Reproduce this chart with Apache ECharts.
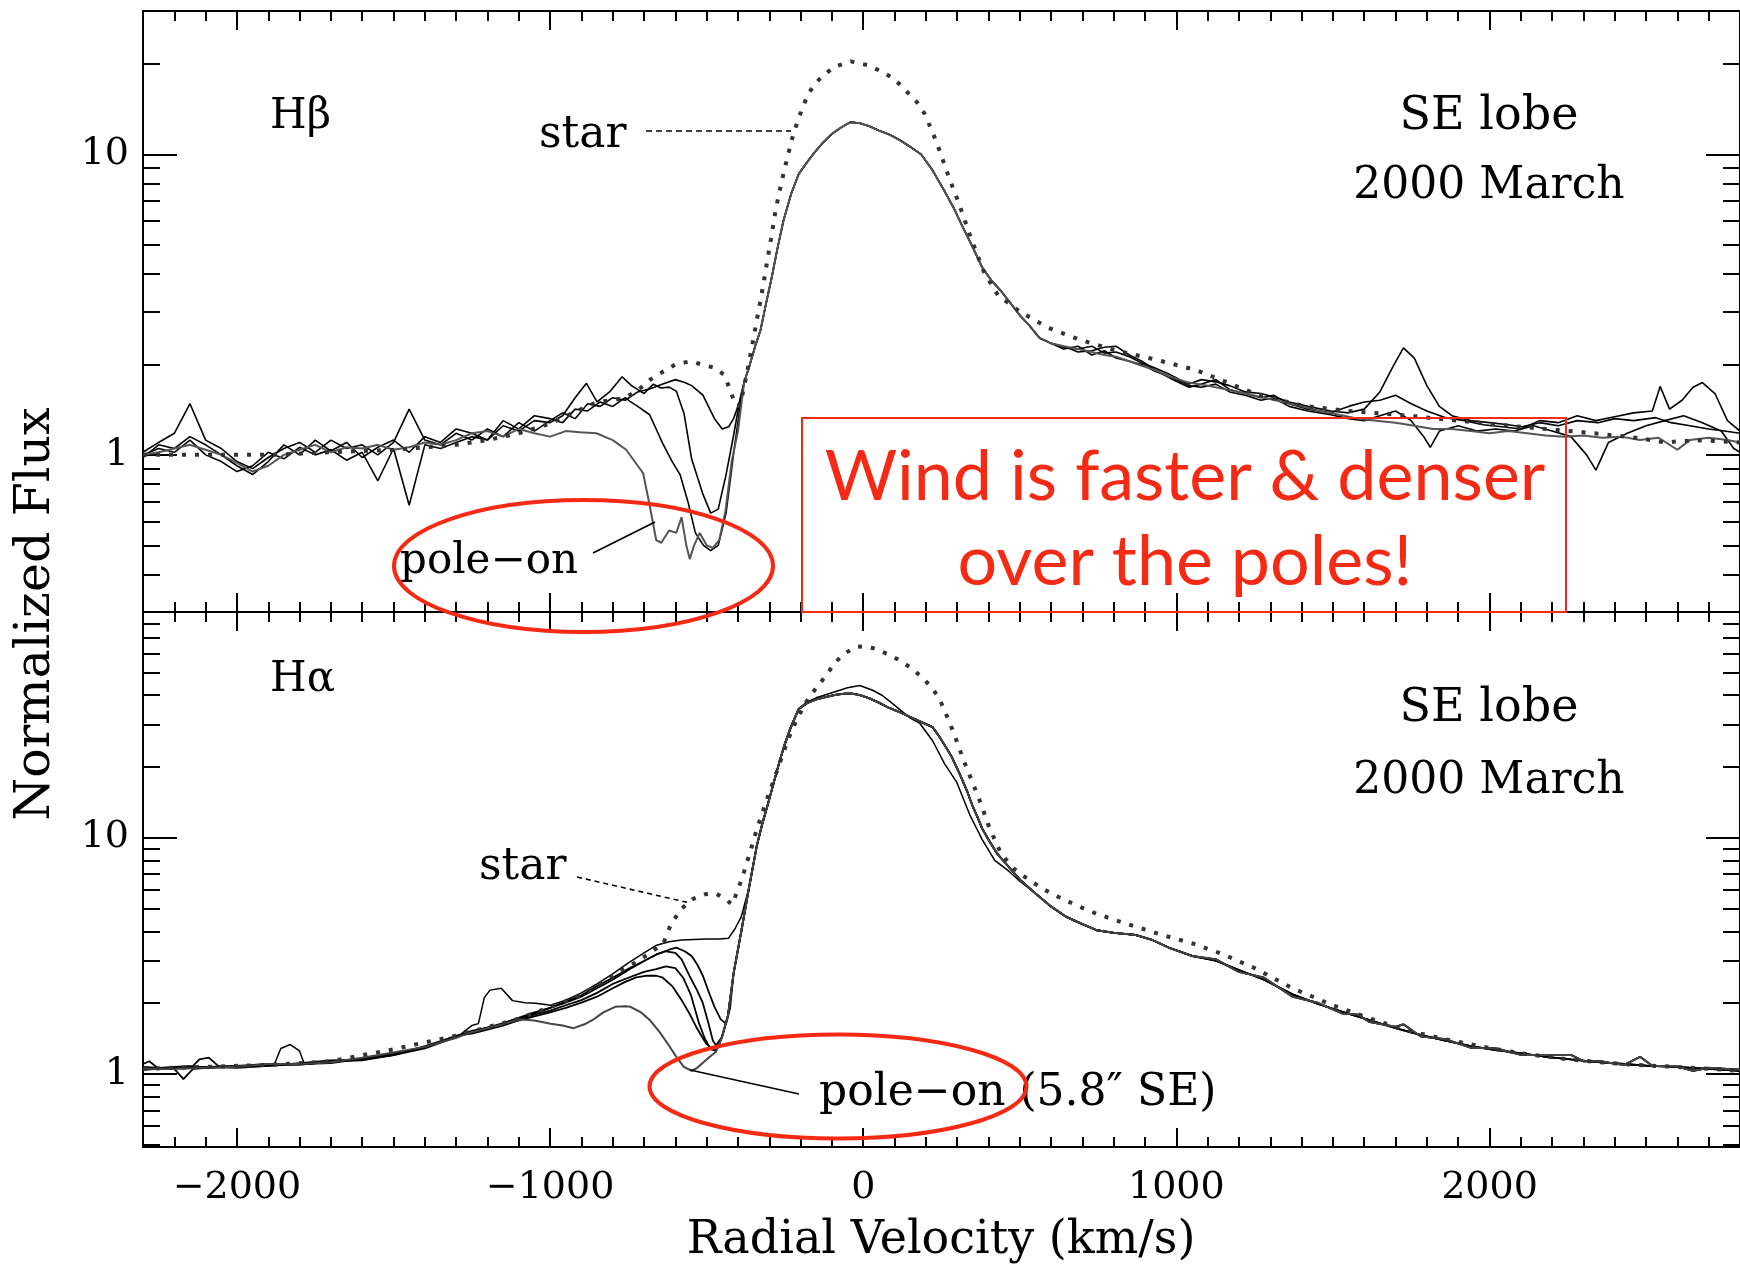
<!DOCTYPE html>
<html><head><meta charset="utf-8">
<script src="https://cdn.jsdelivr.net/npm/echarts@6/dist/echarts.min.js"></script>
<style>html,body{margin:0;padding:0;background:#fff}#c{width:1740px;height:1265px}</style>
</head><body><div id="c"></div>
<script>
// ---------------- H-beta (top panel) ----------------
const hbContV = [-2300,-2250,-2200,-2150,-2100,-2050,-2000,-1950,-1900,-1850,-1800,-1750,-1700,-1650,-1600,-1550,-1500,-1450,-1400,-1350,-1300,-1250,-1200,-1150,-1100,-1050];
const hbContA = [1.02,1.1,1.18,1.48,1.12,1.05,0.95,0.9,0.98,1.05,1.1,1.02,1.12,1.05,1.08,1.0,1.1,1.42,1.12,1.08,1.18,1.12,1.22,1.15,1.28,1.2];
const hbContB = [1.0,1.05,1.02,1.12,1.0,0.95,0.88,0.92,1.02,0.97,1.06,1.0,1.04,0.96,1.02,0.82,1.05,0.68,1.08,1.05,1.1,1.15,1.12,1.25,1.2,1.3];
const hbContC = [0.98,1.08,1.05,1.15,1.08,1.0,0.92,0.86,0.95,1.08,1.0,1.12,1.03,1.1,0.98,1.06,1.12,1.02,1.15,1.1,1.22,1.18,1.12,1.3,1.22,1.35];
const hbContP = [1.0,1.02,1.05,1.08,1.04,1.0,0.94,0.88,0.92,1.0,1.04,1.08,1.02,1.06,1.05,1.08,1.04,1.06,1.1,1.08,1.12,1.18,1.2,1.15,1.22,1.18];

const hbAbsA = [[-1000,1.3],[-960,1.38],[-920,1.32],[-880,1.48],[-840,1.45],[-800,1.55],[-760,1.52],[-720,1.62],[-680,1.66],[-640,1.72],[-600,1.78],[-570,1.74],[-548,1.7],[-512,1.58],[-475,1.32],[-450,1.22],[-430,1.24],[-414,1.32],[-395,1.5]];
const hbAbsB = [[-1000,1.28],[-960,1.35],[-920,1.55],[-884,1.73],[-850,1.5],[-810,1.62],[-770,1.82],[-740,1.7],[-700,1.6],[-670,1.72],[-646,1.67],[-620,1.68],[-597,1.63],[-572,1.37],[-548,0.97],[-512,0.74],[-487,0.64],[-463,0.66],[-438,0.86],[-414,1.16],[-395,1.5]];
const hbAbsC = [[-1000,1.32],[-960,1.28],[-920,1.42],[-880,1.4],[-840,1.5],[-800,1.45],[-760,1.55],[-746,1.51],[-720,1.45],[-682,1.36],[-640,1.09],[-610,0.95],[-585,0.86],[-560,0.7],[-536,0.55],[-510,0.5],[-487,0.48],[-463,0.5],[-438,0.64],[-414,1.01],[-395,1.4]];
const hbAbsP = [[-1000,1.15],[-950,1.2],[-905,1.19],[-852,1.18],[-800,1.12],[-757,1.04],[-720,0.92],[-703,0.87],[-682,0.68],[-661,0.52],[-645,0.51],[-620,0.56],[-597,0.55],[-580,0.62],[-565,0.5],[-554,0.45],[-540,0.5],[-522,0.55],[-500,0.5],[-480,0.49],[-460,0.52],[-440,0.65],[-420,0.95],[-400,1.2]];

const hbCore = [[-380,1.75],[-365,1.95],[-345,2.3],[-328,2.6],[-310,3.2],[-292,3.9],[-275,4.8],[-255,6.0],[-230,7.4],[-206,8.6],[-180,9.4],[-157,10.1],[-130,10.9],[-100,11.7],[-70,12.3],[-41,12.8],[-10,12.7],[20,12.4],[50,12.0],[87,11.6],[120,11.1],[150,10.6],[185,10.0],[220,8.9],[258,7.6],[290,6.6],[319,5.7],[350,4.9],[380,4.2],[410,3.8],[441,3.5],[470,3.2],[502,2.9],[530,2.7],[563,2.45],[600,2.35]];

const hbWingA = [[640,2.28],[686,2.25],[730,2.3],[770,2.18],[807,2.2],[850,2.12],[890,2.02],[930,1.95],[980,1.85],[1040,1.72],[1080,1.78],[1126,1.75],[1170,1.7],[1220,1.62],[1270,1.6],[1310,1.56],[1360,1.5],[1420,1.45],[1493,1.4],[1550,1.38],[1600,1.42],[1650,1.62],[1690,1.95],[1725,2.27],[1760,2.1],[1800,1.7],[1840,1.45],[1880,1.35],[1940,1.3],[2000,1.28],[2060,1.26],[2104,1.24],[2160,1.28],[2220,1.25],[2280,1.3],[2347,1.28],[2400,1.32],[2460,1.3],[2531,1.33],[2580,1.28],[2640,1.25],[2700,1.22],[2750,1.2],[2800,1.18]];
const hbWingB = [[640,2.3],[686,2.2],[730,2.22],[770,2.28],[807,2.3],[850,2.15],[890,2.05],[930,1.92],[980,1.8],[1040,1.68],[1080,1.72],[1126,1.78],[1170,1.65],[1220,1.6],[1270,1.55],[1310,1.58],[1360,1.48],[1420,1.42],[1493,1.38],[1550,1.45],[1600,1.5],[1650,1.52],[1700,1.58],[1750,1.48],[1800,1.4],[1860,1.33],[1920,1.3],[1980,1.26],[2040,1.24],[2100,1.22],[2160,1.3],[2220,1.28],[2280,1.35],[2340,1.3],[2400,1.34],[2460,1.38],[2520,1.4],[2545,1.69],[2575,1.42],[2615,1.52],[2650,1.68],[2680,1.74],[2720,1.6],[2760,1.3],[2800,1.2]];
const hbWingC = [[640,2.25],[686,2.3],[730,2.15],[770,2.22],[807,2.1],[850,2.05],[890,2.0],[930,1.9],[980,1.82],[1040,1.7],[1080,1.68],[1126,1.72],[1170,1.62],[1220,1.58],[1270,1.52],[1310,1.55],[1360,1.45],[1420,1.4],[1493,1.36],[1550,1.32],[1600,1.3],[1650,1.35],[1700,1.4],[1750,1.3],[1790,1.15],[1811,1.06],[1840,1.2],[1900,1.25],[1960,1.2],[2020,1.22],[2080,1.2],[2140,1.25],[2200,1.2],[2260,1.15],[2310,1.0],[2340,0.89],[2380,1.1],[2440,1.18],[2500,1.25],[2560,1.3],[2620,1.35],[2680,1.28],[2740,1.2],[2780,1.05],[2800,1.02]];
const hbWingP = [[640,2.3],[686,2.25],[730,2.2],[770,2.15],[807,2.12],[850,2.05],[890,1.98],[930,1.92],[980,1.82],[1040,1.74],[1100,1.7],[1160,1.65],[1220,1.6],[1280,1.55],[1340,1.5],[1400,1.45],[1460,1.4],[1520,1.36],[1580,1.32],[1640,1.3],[1700,1.28],[1760,1.25],[1820,1.22],[1880,1.22],[1940,1.2],[2000,1.18],[2060,1.2],[2120,1.18],[2180,1.16],[2240,1.15],[2300,1.16],[2360,1.14],[2420,1.15],[2480,1.12],[2540,1.14],[2600,1.04],[2640,1.12],[2700,1.14],[2760,1.12],[2800,1.1]];

const hbStar = [[-2300,1.0],[-2100,1.0],[-1900,1.0],[-1700,1.02],[-1500,1.04],[-1300,1.08],[-1200,1.12],[-1100,1.18],[-1000,1.27],[-900,1.42],[-850,1.5],[-800,1.52],[-760,1.55],[-720,1.64],[-680,1.78],[-640,1.89],[-600,2.0],[-550,2.05],[-510,1.99],[-475,1.95],[-445,1.85],[-425,1.65],[-410,1.48],[-398,1.45],[-385,1.6],[-370,1.9],[-355,2.3],[-340,2.8],[-325,3.4],[-310,4.2],[-295,5.2],[-280,6.5],[-262,8.0],[-245,9.5],[-225,11.5],[-205,13.3],[-175,16],[-140,17.8],[-95,19.5],[-40,20.4],[15,19.8],[57,18.9],[100,17.8],[136,16.3],[172,14.9],[197,13.6],[234,11.0],[270,8.6],[307,6.8],[343,5.3],[386,4.05],[430,3.4],[500,3.0],[590,2.65],[690,2.42],[810,2.22],[930,2.08],[1060,1.92],[1140,1.78],[1250,1.6],[1400,1.46],[1550,1.4],[1740,1.35],[1900,1.3],[2100,1.24],[2300,1.19],[2470,1.14],[2560,1.1],[2660,1.12],[2800,1.1]];

// ---------------- H-alpha (bottom panel) ----------------
const haC1 = [[-2300,1.06],[-2200,1.06],[-2100,1.07],[-2000,1.08],[-1900,1.09],[-1880,1.1],[-1860,1.28],[-1830,1.33],[-1800,1.25],[-1785,1.1],[-1700,1.12],[-1600,1.15],[-1500,1.2],[-1400,1.3],[-1300,1.42]];
const haC2 = [[-2300,1.05],[-2200,1.07],[-2140,1.08],[-2120,1.15],[-2090,1.17],[-2060,1.08],[-2000,1.07],[-1900,1.08],[-1800,1.1],[-1700,1.11],[-1600,1.16],[-1500,1.22],[-1400,1.3],[-1300,1.44]];
const haC3 = [[-2300,1.07],[-2200,1.05],[-2171,0.95],[-2140,1.05],[-2000,1.08],[-1900,1.1],[-1800,1.09],[-1700,1.13],[-1600,1.14],[-1500,1.2],[-1400,1.28],[-1300,1.43]];
const haC4 = [[-2300,1.1],[-2280,1.13],[-2250,1.05],[-2100,1.06],[-2000,1.07],[-1900,1.09],[-1800,1.1],[-1700,1.12],[-1600,1.16],[-1500,1.21],[-1400,1.29],[-1300,1.45]];
const haC5 = [[-2300,1.04],[-2200,1.06],[-2100,1.07],[-2000,1.06],[-1900,1.08],[-1800,1.11],[-1700,1.14],[-1600,1.15],[-1500,1.2],[-1400,1.31],[-1300,1.44]];
const haC6 = [[-2300,1.05],[-2200,1.05],[-2100,1.06],[-2000,1.07],[-1900,1.1],[-1800,1.1],[-1700,1.12],[-1600,1.17],[-1500,1.23],[-1400,1.3],[-1300,1.42]];

const haAbs1 = [[-1250,1.6],[-1229,1.63],[-1210,2.1],[-1192,2.26],[-1156,2.3],[-1120,2.04],[-1080,2.0],[-1046,1.99],[-998,1.95],[-950,2.05],[-900,2.2],[-850,2.4],[-800,2.65],[-750,2.95],[-700,3.25],[-660,3.5],[-620,3.62],[-580,3.68],[-540,3.7],[-500,3.72],[-460,3.72],[-430,3.75],[-410,4.1],[-390,4.6]];
const haAbs2 = [[-1250,1.52],[-1150,1.62],[-1050,1.8],[-1000,1.9],[-950,2.02],[-900,2.15],[-850,2.35],[-800,2.55],[-750,2.78],[-700,3.0],[-660,3.2],[-620,3.35],[-597,3.42],[-570,3.3],[-548,3.15],[-530,2.9],[-512,2.6],[-495,2.25],[-475,1.92],[-455,1.7],[-438,1.63],[-425,1.9]];
const haAbs3 = [[-1250,1.5],[-1150,1.64],[-1050,1.82],[-1000,1.9],[-950,2.0],[-900,2.12],[-850,2.3],[-800,2.5],[-750,2.75],[-700,3.0],[-661,3.2],[-630,3.3],[-600,3.25],[-580,3.05],[-555,2.6],[-530,2.25],[-512,1.99],[-495,1.65],[-480,1.38],[-470,1.32]];
const haAbs4 = [[-1250,1.48],[-1150,1.6],[-1050,1.78],[-1000,1.85],[-950,1.95],[-900,2.05],[-850,2.2],[-800,2.4],[-750,2.55],[-700,2.7],[-661,2.77],[-630,2.85],[-600,2.8],[-575,2.55],[-550,2.15],[-524,1.63],[-505,1.4],[-487,1.27],[-470,1.25]];
const haAbs5 = [[-1250,1.5],[-1150,1.62],[-1050,1.75],[-1000,1.82],[-950,1.9],[-900,2.0],[-850,2.12],[-800,2.3],[-760,2.45],[-725,2.56],[-690,2.6],[-660,2.6],[-640,2.55],[-610,2.35],[-580,2.05],[-555,1.8],[-530,1.55],[-503,1.35],[-485,1.28],[-470,1.26]];
const haAbs6 = [[-1250,1.5],[-1150,1.62],[-1100,1.7],[-1050,1.68],[-998,1.63],[-960,1.6],[-925,1.56],[-890,1.62],[-864,1.69],[-830,1.82],[-792,1.92],[-760,1.93],[-743,1.92],[-710,1.82],[-682,1.69],[-650,1.5],[-621,1.32],[-595,1.17],[-573,1.07],[-548,1.03],[-530,1.06],[-510,1.12],[-490,1.18],[-470,1.24]];

const haCore = [[-451,1.43],[-432,1.76],[-414,2.66],[-389,4.03],[-365,6.1],[-340,9.2],[-322,11.5],[-304,13.9],[-285,17.2],[-267,21.0],[-250,25],[-231,29.3],[-206,35],[-180,37],[-150,38.4],[-120,39.3],[-90,40.1],[-60,40.6],[-35,40.6],[-10,40],[20,38.8],[50,37.2],[80,35.5],[110,34.2],[136,33],[170,31.5],[200,30.2],[222,29.3],[245,26.5],[265,24],[283,21.9],[300,19.6],[315,17.7],[331,15.8],[350,13.5],[365,12.2],[380,10.9],[404,9.6],[429,8.5],[465,7.5],[502,6.6],[550,5.8],[600,5.1],[650,4.6],[700,4.3],[746,4.05],[800,3.95],[869,3.87],[920,3.7],[980,3.4],[1052,3.15]];
const haCoreThin = [[-365,6.1],[-340,9.2],[-304,13.9],[-267,21.0],[-231,29.3],[-206,35],[-180,37.5],[-150,39],[-100,41],[-50,43],[-11,44],[30,42],[60,40],[87,37.5],[120,34.5],[150,32],[180,30.5],[222,25.6],[260,20.5],[298,17.2],[340,12.5],[380,9.8],[420,8.0],[465,7.2],[502,6.5],[550,5.8]];
const haWing = [[1052,3.15],[1126,3.01],[1200,2.75],[1280,2.5],[1371,2.17],[1450,1.98],[1530,1.83],[1615,1.69],[1700,1.56],[1780,1.46],[1859,1.38],[1940,1.31],[2020,1.26],[2104,1.22],[2180,1.18],[2260,1.15],[2347,1.12],[2430,1.1],[2510,1.08],[2592,1.07],[2700,1.05],[2800,1.03]];
const haWingB = [[1052,3.1],[1126,3.05],[1200,2.7],[1280,2.55],[1371,2.12],[1450,2.0],[1530,1.8],[1580,1.78],[1615,1.66],[1700,1.58],[1725,1.62],[1780,1.44],[1859,1.4],[1940,1.29],[2020,1.28],[2104,1.2],[2180,1.2],[2262,1.2],[2300,1.13],[2347,1.13],[2430,1.09],[2481,1.18],[2520,1.08],[2592,1.08],[2650,1.03],[2700,1.06],[2800,1.04]];

const haStar = [[-2300,1.05],[-2100,1.07],[-1900,1.09],[-1700,1.13],[-1500,1.27],[-1300,1.45],[-1100,1.71],[-900,2.15],[-800,2.6],[-720,3.0],[-680,3.25],[-638,3.57],[-614,4.3],[-580,5.0],[-543,5.5],[-505,5.75],[-472,5.8],[-440,5.5],[-419,5.2],[-400,6.0],[-380,7.2],[-360,8.8],[-340,10.8],[-320,13],[-300,15.5],[-270,20],[-240,26],[-210,32],[-182,37.5],[-150,43],[-121,48],[-90,55],[-60,60],[-24,64],[10,64.5],[37,63],[75,60],[111,56.7],[150,52.5],[185,48],[220,43],[246,38],[270,32],[290,27.5],[307,23.8],[325,20.5],[343,17.9],[362,15.5],[380,13.4],[404,10.9],[441,8.5],[480,7.4],[530,6.6],[580,6.0],[624,5.6],[690,5.1],[746,4.75],[810,4.45],[869,4.2],[960,3.85],[1052,3.56],[1150,3.2],[1250,2.8],[1371,2.3],[1500,1.95],[1615,1.72],[1740,1.52],[1859,1.4],[1980,1.3],[2104,1.22],[2230,1.16],[2347,1.12],[2470,1.09],[2592,1.07],[2700,1.05],[2800,1.03]];

// ---------------- axes ----------------
const xMajor = [-2000,-1000,0,1000,2000];
const xMinor = [-2200,-2100,-1900,-1800,-1700,-1600,-1500,-1400,-1300,-1200,-1100,-900,-800,-700,-600,-500,-400,-300,-200,-100,100,200,300,400,500,600,700,800,900,1100,1200,1300,1400,1500,1600,1700,1800,1900,2100,2200,2300,2400,2500,2600,2700];
const yMajor = [1,10];
const yMinorTop = [0.4,0.5,0.6,0.7,0.8,0.9,2,3,4,5,6,7,8,9,20];
const yMinorBot = [0.5,0.6,0.7,0.8,0.9,2,3,4,5,6,7,8,9,20,30,40,50,60,70,80];

// ---------------- build ----------------
function zip(v, f){ return v.map((x,i)=>[x,f[i]]); }
function chain(){ const out=[]; for(const part of arguments){ const last = out.length? out[out.length-1][0] : -Infinity; for(const p of part){ if(p[0]>last) out.push(p); } } return out; }

const SERIF = '"DejaVu Serif", serif';
const SANS = 'Lato, "Open Sans", sans-serif';
const RED = '#f42a14';
const BLACK = '#000';

function xAx(grid, pos, ticks, len, labels, line){
  return { type:'value', gridIndex:grid, position:pos, min:-2300, max:2800,
    axisLine:{show:line, onZero:false, lineStyle:{color:BLACK, width:2}},
    axisTick:{show:true, inside:true, length:len, customValues:ticks, lineStyle:{color:BLACK, width:2}},
    axisLabel:{show:labels, customValues:xMajor, color:BLACK, fontFamily:SERIF, fontSize:38, margin:22,
      formatter:v=> v<0 ? '\u2212'+Math.abs(v) : String(v)},
    splitLine:{show:false} };
}
function yAx(grid, pos, mn, mx, ticks, len, labels, line){
  return { type:'log', logBase:10, gridIndex:grid, position:pos, min:mn, max:mx,
    axisLine:{show:line, onZero:false, lineStyle:{color:BLACK, width:2}},
    axisTick:{show:true, inside:true, length:len, customValues:ticks, lineStyle:{color:BLACK, width:2}},
    axisLabel:{show:labels, customValues:yMajor, color:BLACK, fontFamily:SERIF, fontSize:38, margin:14,
      formatter:v=> String(Math.round(v))},
    splitLine:{show:false}, minorTick:{show:false} };
}

function line(name, data, xi, yi, color, width){
  return { name, type:'line', xAxisIndex:xi, yAxisIndex:yi, data, showSymbol:false, symbol:'none',
    lineStyle:{color, width}, silent:true, z:3 };
}
function dotted(name, data, xi, yi){
  return { name, type:'line', xAxisIndex:xi, yAxisIndex:yi, data, showSymbol:false, symbol:'none',
    lineStyle:{color:'#333', width:4, type:[4,9]}, silent:true, z:4 };
}

function txt(x, y, s, size, align, extra){
  return Object.assign({ type:'text', x, y, silent:true, z:50,
    style:{ text:s, fontSize:size, fontFamily:SERIF, fill:BLACK, align:align||'left', verticalAlign:'middle' } }, extra||{});
}
function seg(x1,y1,x2,y2,dash){
  return { type:'line', silent:true, z:50, shape:{x1,y1,x2,y2}, style:{stroke:BLACK, lineWidth:1.6, lineDash:dash||null} };
}

const chart = echarts.init(document.getElementById('c'), null, {renderer:'canvas'});
chart.setOption({
  animation:false,
  backgroundColor:'#fff',
  grid:[ {left:143, top:11, width:1598, height:601},
         {left:143, top:612, width:1598, height:535} ],
  xAxis:[ xAx(0,'bottom',xMajor,19,false,true), xAx(0,'bottom',xMinor,10,false,false),
          xAx(0,'top',xMajor,19,false,true),    xAx(0,'top',xMinor,10,false,false),
          xAx(1,'bottom',xMajor,19,true,true),  xAx(1,'bottom',xMinor,10,false,false),
          xAx(1,'top',xMajor,19,false,true),    xAx(1,'top',xMinor,10,false,false) ],
  yAxis:[ yAx(0,'left',0.3,30,yMajor,34,true,true),   yAx(0,'left',0.3,30,yMinorTop,17,false,false),
          yAx(0,'right',0.3,30,yMajor,34,false,true), yAx(0,'right',0.3,30,yMinorTop,17,false,false),
          yAx(1,'left',0.49,90,yMajor,34,true,true),  yAx(1,'left',0.49,90,yMinorBot,17,false,false),
          yAx(1,'right',0.49,90,yMajor,34,false,true),yAx(1,'right',0.49,90,yMinorBot,17,false,false) ],
  series:[
    line('Hb A', chain(zip(hbContV,hbContA), hbAbsA, hbCore, hbWingA), 0, 0, BLACK, 1.6),
    line('Hb B', chain(zip(hbContV,hbContB), hbAbsB, hbCore, hbWingB), 0, 0, BLACK, 1.6),
    line('Hb C', chain(zip(hbContV,hbContC), hbAbsC, hbCore, hbWingC), 0, 0, BLACK, 1.6),
    line('Hb pole-on', chain(zip(hbContV,hbContP), hbAbsP, hbCore, hbWingP), 0, 0, '#555', 2),
    dotted('Hb star', hbStar, 0, 0),
    line('Ha 1', chain(haC1, haAbs1, haCoreThin, haCore, haWing), 4, 4, BLACK, 1.5),
    line('Ha 2', chain(haC2, haAbs2, haCore, haWingB), 4, 4, BLACK, 1.8),
    line('Ha 3', chain(haC3, haAbs3, haCore, haWing), 4, 4, BLACK, 1.8),
    line('Ha 4', chain(haC4, haAbs4, haCore, haWingB), 4, 4, BLACK, 1.8),
    line('Ha 5', chain(haC5, haAbs5, haCore, haWing), 4, 4, BLACK, 1.8),
    line('Ha pole-on', chain(haC6, haAbs6, haCore, haWingB), 4, 4, '#444', 2),
    dotted('Ha star', haStar, 4, 4)
  ],
  graphic:[
    txt(270,117,'H\u03b2',42),
    txt(539,136,'star',44),
    seg(646,131,791,131,[6,4]),
    txt(1489,117,'SE lobe',46,'center'),
    txt(1489,187,'2000 March',44,'center'),
    txt(400,562,'pole\u2212on',42),
    seg(593,553,655,522),
    txt(270,680,'H\u03b1',42),
    txt(479,868,'star',44),
    seg(577,877,690,903,[5,4]),
    txt(1489,709,'SE lobe',46,'center'),
    txt(1489,782,'2000 March',44,'center'),
    txt(819,1094,'pole\u2212on (5.8\u2033 SE)',44),
    seg(799,1094,690,1070),
    txt(36,614,'Normalized Flux',49,'center',{rotation:Math.PI/2}),
    txt(941,1241,'Radial Velocity (km/s)',46,'center'),
    { type:'rect', silent:true, z:60, shape:{x:802,y:418,width:764,height:194}, style:{fill:'none', stroke:RED, lineWidth:2} },
    { type:'text', x:1185, y:477, silent:true, z:60, style:{text:'Wind is faster & denser', fontSize:70, fontFamily:SANS, fill:RED, align:'center', verticalAlign:'middle'} },
    { type:'text', x:1185, y:562, silent:true, z:60, style:{text:'over the poles!', fontSize:70, fontFamily:SANS, fill:RED, align:'center', verticalAlign:'middle'} },
    { type:'ellipse', silent:true, z:60, shape:{cx:583.5, cy:566, rx:189.5, ry:66}, style:{fill:'none', stroke:RED, lineWidth:4} },
    { type:'ellipse', silent:true, z:60, shape:{cx:838, cy:1086.5, rx:188.5, ry:52}, style:{fill:'none', stroke:RED, lineWidth:4} }
  ]
});
</script></body></html>
